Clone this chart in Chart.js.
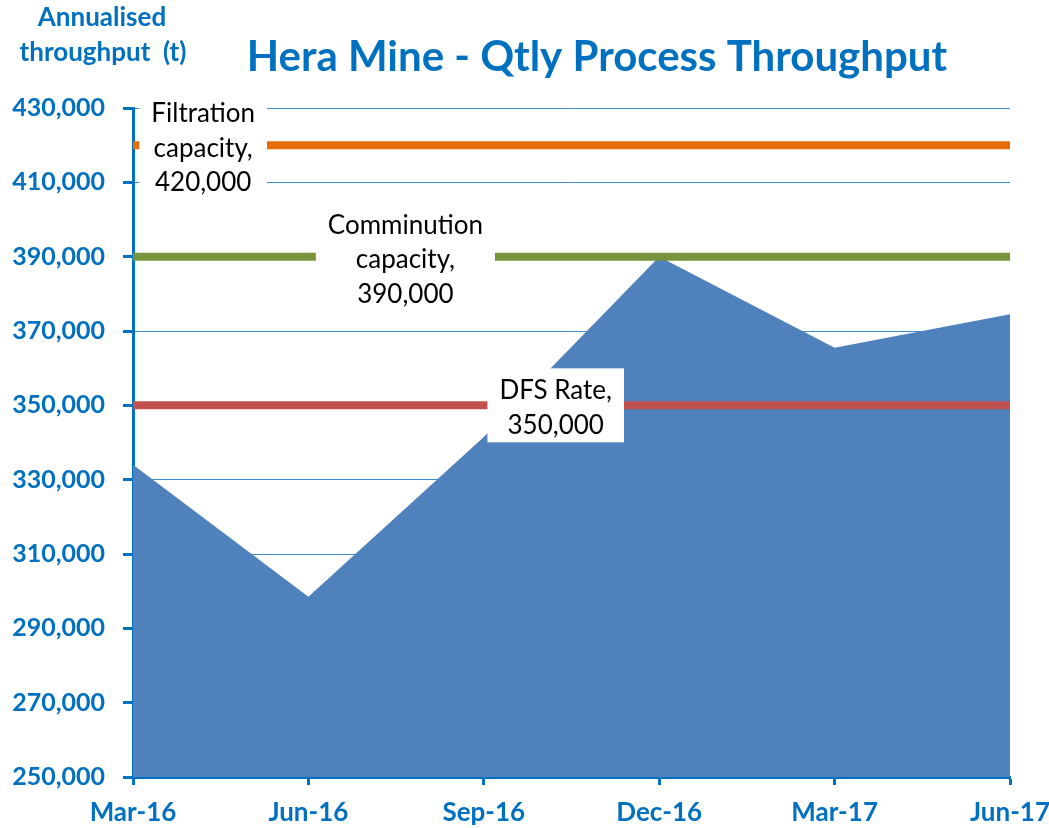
<!DOCTYPE html>
<html>
<head>
<meta charset="utf-8">
<script src="https://cdn.jsdelivr.net/npm/chart.js@4.4.1/dist/chart.umd.min.js"></script>
<style>
  html, body { margin: 0; padding: 0; background: #fff; }
</style>
</head>
<body>
<canvas id="chart" width="1049" height="828"></canvas>
<script>
// data
const quarters = ["Mar-16", "Jun-16", "Sep-16", "Dec-16", "Mar-17", "Jun-17"];
const throughput = [334000, 298500, 341500, 390000, 365500, 374500];

const capacityNames = ["Filtration capacity", "Comminution capacity", "DFS Rate"];
const capacityValues = [420000, 390000, 350000];
const capacityNotes = [
  ["Filtration", "capacity,", "420,000"],
  ["Comminution", "capacity,", "390,000"],
  ["DFS Rate,", "350,000"]
];

const yMin = 250000, yMax = 430000, yStep = 20000;

const blue = "#0070C0";
const capacityColors = ["#E46C0A", "#77933C", "#C0504D"];
// where the note boxes sit along the x axis (category units)
const notePos = [0.40, 1.553, 2.41];

const titles = {
  id: "titles",
  afterDraw(chart) {
    const ctx = chart.ctx;
    ctx.save();
    ctx.fillStyle = blue;
    ctx.textAlign = "center";
    ctx.textBaseline = "middle";
    ctx.font = "bold 42px Lato";
    ctx.fillText("Hera Mine - Qtly Process Throughput", 597, 57);
    ctx.font = "bold 26px Lato";
    ctx.fillText("Annualised", 102, 18);
    ctx.fillText("throughput  (t)", 103, 53);
    ctx.restore();
  }
};

const noteBoxes = {
  id: "noteBoxes",
  afterDatasetsDraw(chart) {
    const { ctx, scales: { x, y } } = chart;
    ctx.save();
    ctx.font = "26px Lato";
    ctx.textAlign = "center";
    ctx.textBaseline = "middle";
    capacityNotes.forEach((lines, i) => {
      const cx = x.getPixelForValue(notePos[i]);
      const cy = y.getPixelForValue(capacityValues[i]);
      const lh = 34.5;
      const w = Math.max(...lines.map(l => ctx.measureText(l).width)) + 24;
      const h = lines.length * lh + 5;
      ctx.fillStyle = "#fff";
      ctx.fillRect(cx - w / 2, cy - h / 2, w, h);
      ctx.fillStyle = "#000";
      lines.forEach((l, k) => {
        ctx.fillText(l, cx, cy + 3 + (k - (lines.length - 1) / 2) * lh);
      });
    });
    ctx.restore();
  }
};

const datasets = capacityValues.map((v, i) => ({
  label: capacityNames[i],
  data: quarters.map(() => v),
  borderColor: capacityColors[i],
  borderWidth: 8,
  borderCapStyle: "butt",
  pointRadius: 0,
  fill: false,
  order: 1
}));
datasets.push({
  label: "Throughput",
  data: throughput,
  backgroundColor: "#4F81BD",
  borderWidth: 0,
  pointRadius: 0,
  tension: 0,
  fill: "start",
  order: 10
});

new Chart(document.getElementById("chart"), {
  type: "line",
  data: { labels: quarters, datasets },
  options: {
    responsive: false,
    animation: false,
    layout: { padding: { top: 108, right: 39, left: 0, bottom: 0 } },
    plugins: { legend: { display: false }, tooltip: { enabled: false } },
    scales: {
      x: {
        offset: false,
        grid: { drawOnChartArea: false, drawTicks: true, tickLength: 8, tickColor: blue, tickWidth: 3 },
        border: { display: true, color: blue, width: 3 },
        ticks: { color: blue, font: { family: "Lato", size: 26, weight: "bold" }, padding: 12, maxRotation: 0, autoSkip: false },
        afterFit(s) { s.height = 51; s.paddingLeft = 0; s.paddingRight = 0; }
      },
      y: {
        min: yMin,
        max: yMax,
        grid: { color: "#3d8bd0", lineWidth: 1, tickLength: 10, tickColor: blue, tickWidth: 3 },
        border: { display: true, color: blue, width: 3 },
        ticks: {
          stepSize: yStep,
          color: blue,
          padding: 18,
          font: { family: "Lato", size: 25, weight: "bold" },
          callback: v => v.toLocaleString("en-US")
        },
        afterFit(s) { s.width = 133; }
      }
    }
  },
  plugins: [titles, noteBoxes]
});
</script>
</body>
</html>
